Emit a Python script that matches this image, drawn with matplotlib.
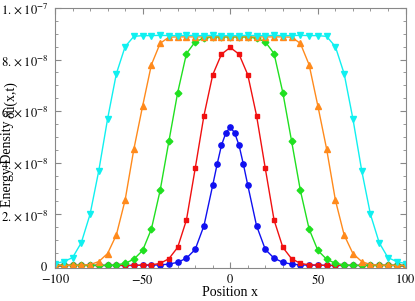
import numpy as np
import matplotlib
matplotlib.use("Agg")
import matplotlib.pyplot as plt

plt.rcParams['font.family'] = ['Liberation Serif', 'DejaVu Serif']
plt.rcParams['mathtext.fontset'] = 'stix'

# positions (step 5), blue has extra samples near the peak
x = list(range(-100, 101, 5))
x_blue = [-100, -95, -90, -85, -80, -75, -70, -65, -60, -55, -50, -45, -40, -35, -30,
          -25, -20, -15, -10, -7.5, -5, -2.5, 0, 2.5, 5, 7.5, 10, 15, 20, 25, 30, 35,
          40, 45, 50, 55, 60, 65, 70, 75, 80, 85, 90, 95, 100]

# energy density, units of 1e-8 (left half incl. centre, mirrored below)
blue_half = [0.02, 0.02, 0.02, 0.02, 0.02, 0.02, 0.02, 0.02, 0.02, 0.02, 0.03, 0.03,
             0.04, 0.07, 0.14, 0.30, 0.64, 1.56, 3.13, 3.94, 4.68, 5.16, 5.38]
red_half = [0.02, 0.02, 0.02, 0.02, 0.02, 0.02, 0.02, 0.02, 0.02, 0.02, 0.03, 0.04,
            0.10, 0.28, 0.72, 1.78, 3.78, 5.83, 7.41, 8.21, 8.47]
green_half = [0.02, 0.02, 0.02, 0.02, 0.02, 0.02, 0.02, 0.04, 0.10, 0.26, 0.60, 1.43,
              2.93, 4.84, 6.72, 8.23, 8.69, 8.83, 8.88, 8.88, 8.88]
orange_half = [0.02, 0.02, 0.03, 0.03, 0.05, 0.17, 0.48, 1.20, 2.55, 4.53, 6.20, 7.80,
               8.63, 8.87, 8.88, 8.88, 8.88, 8.88, 8.88, 8.88, 8.88]
cyan_half = [0.09, 0.17, 0.32, 0.90, 2.00, 3.70, 5.70, 7.45, 8.50, 8.90, 8.93, 8.93,
             8.94, 8.93, 8.93, 8.94, 8.93, 8.93, 8.94, 8.93, 8.93]


def mirror(half):
    return np.array(half + half[-2::-1]) * 1e-8


series = [
    (x_blue, mirror(blue_half), '#1010f0', 'o', 3.8),
    (x, mirror(red_half), '#f01010', 's', 3.4),
    (x, mirror(green_half), '#20e020', 'D', 3.4),
    (x, mirror(orange_half), '#ff8a1c', '^', 4.0),
    (x, mirror(cyan_half), '#10f0f0', 'v', 4.0),
]

fig = plt.figure(figsize=(4.15, 3.01), dpi=100)
ax = fig.add_axes([55 / 415, 33 / 301, 350.5 / 415, 260 / 301])

for xs, ys, c, m, ms in series:
    ax.plot(xs, ys, color=c, marker=m, markersize=ms, linewidth=1.0)

ax.set_xlim(-100, 100)
ax.set_ylim(-0.08e-8, 1.0e-7)

ax.set_xticks([-100, -50, 0, 50, 100])
ax.set_xticklabels(['$-100$', '$-50$', '$0$', '$50$', '$100$'])
ax.set_xticks(np.arange(-100, 101, 10), minor=True)
ax.set_yticks([0, 2e-8, 4e-8, 6e-8, 8e-8, 1e-7])
ax.set_yticklabels(['$0$', r'$2.\times10^{-8}$', r'$4.\times10^{-8}$',
                    r'$6.\times10^{-8}$', r'$8.\times10^{-8}$', r'$1.\times10^{-7}$'])
ax.set_yticks(np.arange(0, 1.01e-7, 0.5e-8), minor=True)

ax.tick_params(which='both', direction='in', top=True, right=True,
               color='#888888', labelsize=9)
ax.tick_params(which='major', length=4, width=0.8)
ax.tick_params(which='minor', length=2, width=0.6)
ax.tick_params(axis='y', pad=5)
for s in ax.spines.values():
    s.set_color('#888888')
    s.set_linewidth(0.8)

fig.text(230 / 415, 1 - 293 / 301, 'Position x', ha='center', va='center', fontsize=10)
fig.text(7.5 / 415, 1 - 164 / 301, 'Energy Density', rotation=90, ha='center',
         va='center', fontsize=10)
fig.text(11 / 415, 1 - 100 / 301, 'δu(x,t)', rotation=90, ha='center',
         va='center', fontsize=10)

fig.savefig('out.png', dpi=100)
